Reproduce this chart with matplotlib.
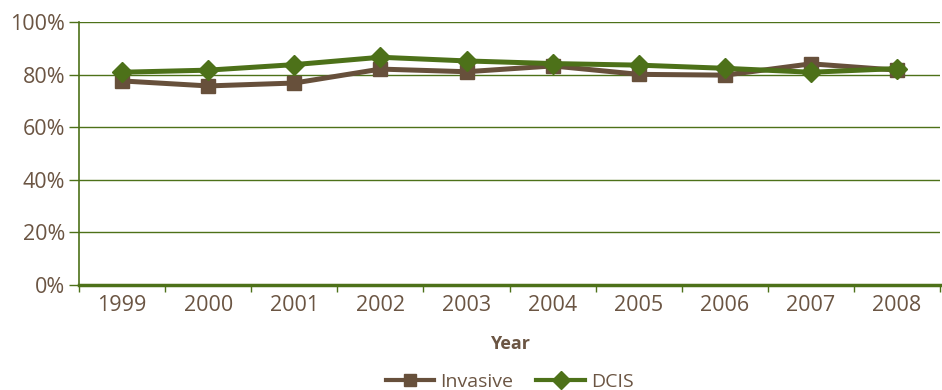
import matplotlib.pyplot as plt
import numpy as np

years = ['1999', '2000', '2001', '2002', '2003', '2004', '2005', '2006', '2007', '2008']
invasive = [77.6, 75.7, 76.8, 82.1, 81.1, 83.3, 80.1, 79.8, 84.1, 81.7]
dcis = [80.9, 81.7, 83.8, 86.6, 85.2, 84.2, 83.6, 82.4, 80.9, 82.3]

brown = '#67503b'
green = '#4d7119'
text_col = '#6b5543'

plt.rcParams['font.family'] = ['Open Sans', 'DejaVu Sans']

fig = plt.figure(figsize=(9.42, 3.9), dpi=100)
ax = fig.add_axes([0.0839, 0.269, 0.9141, 0.6746])

x = np.arange(len(years))
ax.plot(x, invasive, color=brown, lw=3.6, marker='s', markersize=10, label='Invasive', zorder=3)
ax.plot(x, dcis, color=green, lw=3.6, marker='D', markersize=10.5, label='DCIS', zorder=4)

ax.set_xlim(-0.5, len(years) - 0.5)
ax.set_ylim(0, 100)
ax.set_yticks(range(0, 101, 20))
ax.set_yticklabels(['%d%%' % v for v in range(0, 101, 20)])
ax.yaxis.grid(True, color=green, lw=1.0)
ax.set_axisbelow(True)

ax.set_xticks(x)
ax.set_xticklabels(years)
ax.set_xticks(np.arange(-0.5, len(years)), minor=True)
ax.tick_params(axis='x', which='major', length=0, pad=7, labelsize=15.5, colors=text_col)
ax.tick_params(axis='x', which='minor', length=5, width=1, color=green, direction='out')
ax.tick_params(axis='y', length=7, width=1, color=green, labelsize=15.5, labelcolor=text_col, pad=3)

for side in ['top', 'right']:
    ax.spines[side].set_visible(False)
ax.spines['left'].set_color(green)
ax.spines['left'].set_linewidth(1.2)
ax.spines['bottom'].set_color(green)
ax.spines['bottom'].set_linewidth(2.5)

ax.set_xlabel('Year', fontsize=13, fontweight='bold', color=text_col, labelpad=14)

leg = fig.legend(loc='lower center', bbox_to_anchor=(0.541, -0.048), ncol=2, frameon=False,
                 fontsize=14, handlelength=2.5, columnspacing=1.2, handletextpad=0.3,
                 markerscale=0.9)
for line in leg.get_lines():
    line.set_linewidth(3)
for t in leg.get_texts():
    t.set_color(text_col)

fig.savefig('out.png', dpi=100)
